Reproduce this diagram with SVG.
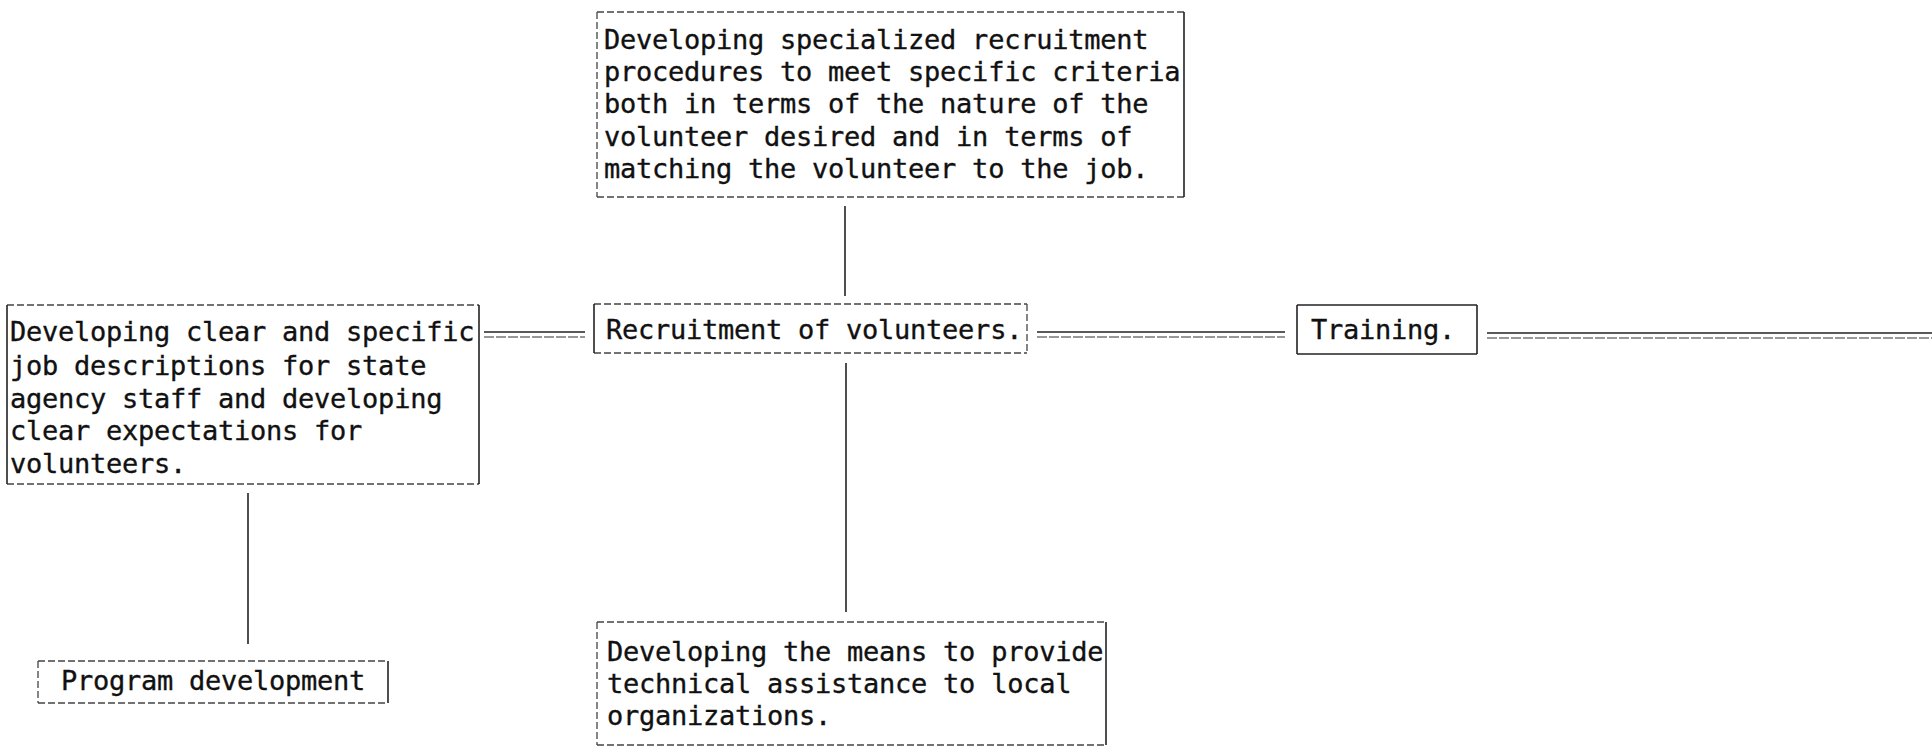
<svg xmlns="http://www.w3.org/2000/svg" width="1932" height="749" viewBox="0 0 1932 749">
<style>
.t{font-family:"DejaVu Sans Mono","Liberation Mono",monospace;font-size:27px;letter-spacing:-0.25px;fill:#111;stroke:#111;stroke-width:0.35}
.v{stroke:#222;stroke-width:1.6;fill:none}
.h{stroke:#444;stroke-width:1.3;fill:none;stroke-dasharray:7 3}
.c{stroke:#222;stroke-width:1.6;fill:none}
.c2{stroke:#333;stroke-width:1.2;fill:none;stroke-dasharray:10 2}
</style>
<rect width="1932" height="749" fill="#fff"/>
<g id="connectors">
<line class="c" x1="845" y1="206" x2="845" y2="296"/>
<line class="c" x1="846" y1="363" x2="846" y2="612"/>
<line class="c" x1="248" y1="493" x2="248" y2="644"/>
<line class="c" x1="484" y1="332" x2="585" y2="332"/>
<line class="c2" x1="484" y1="337" x2="585" y2="337"/>
<line class="c" x1="1037" y1="332" x2="1285" y2="332"/>
<line class="c2" x1="1037" y1="337" x2="1285" y2="337"/>
<line class="c" x1="1487" y1="333" x2="1932" y2="333"/>
<line class="c2" x1="1487" y1="338" x2="1932" y2="338"/>
</g>
<g id="node-top">
<line class="h" x1="597" y1="12" x2="1184" y2="12"/>
<line class="h" x1="597" y1="197" x2="1184" y2="197"/>
<line class="h" x1="597" y1="12" x2="597" y2="197"/>
<line class="v" x1="1184" y1="12" x2="1184" y2="197"/>
<text class="t" x="604" y="49">Developing specialized recruitment</text>
<text class="t" x="604" y="81">procedures to meet specific criteria</text>
<text class="t" x="604" y="113">both in terms of the nature of the</text>
<text class="t" x="604" y="146">volunteer desired and in terms of</text>
<text class="t" x="604" y="178">matching the volunteer to the job.</text>
</g>
<g id="node-left">
<line class="h" x1="7" y1="305" x2="479" y2="305"/>
<line class="h" x1="7" y1="484" x2="479" y2="484"/>
<line class="v" x1="7" y1="305" x2="7" y2="484"/>
<line class="v" x1="479" y1="305" x2="479" y2="484"/>
<text class="t" x="10" y="341">Developing clear and specific</text>
<text class="t" x="10" y="375">job descriptions for state</text>
<text class="t" x="10" y="408">agency staff and developing</text>
<text class="t" x="10" y="440">clear expectations for</text>
<text class="t" x="10" y="473">volunteers.</text>
</g>
<g id="node-recruitment">
<line class="h" x1="594" y1="304" x2="1027" y2="304"/>
<line class="h" x1="594" y1="353" x2="1027" y2="353"/>
<line class="v" x1="594" y1="304" x2="594" y2="353"/>
<line class="h" x1="1027" y1="304" x2="1027" y2="353"/>
<text class="t" x="606" y="339">Recruitment of volunteers.</text>
</g>
<g id="node-training">
<line class="v" x1="1297" y1="305" x2="1477" y2="305"/>
<line class="v" x1="1297" y1="354" x2="1477" y2="354"/>
<line class="v" x1="1297" y1="305" x2="1297" y2="354"/>
<line class="v" x1="1477" y1="305" x2="1477" y2="354"/>
<text class="t" x="1311" y="339">Training.</text>
</g>
<g id="node-bottom">
<line class="h" x1="597" y1="622" x2="1106" y2="622"/>
<line class="h" x1="597" y1="745" x2="1106" y2="745"/>
<line class="h" x1="597" y1="622" x2="597" y2="745"/>
<line class="v" x1="1106" y1="622" x2="1106" y2="745"/>
<text class="t" x="607" y="661">Developing the means to provide</text>
<text class="t" x="607" y="693">technical assistance to local</text>
<text class="t" x="607" y="725">organizations.</text>
</g>
<g id="node-program">
<line class="h" x1="38" y1="661" x2="388" y2="661"/>
<line class="h" x1="38" y1="703" x2="388" y2="703"/>
<line class="h" x1="38" y1="661" x2="38" y2="703"/>
<line class="v" x1="388" y1="661" x2="388" y2="703"/>
<text class="t" x="61" y="690">Program development</text>
</g>
</svg>
